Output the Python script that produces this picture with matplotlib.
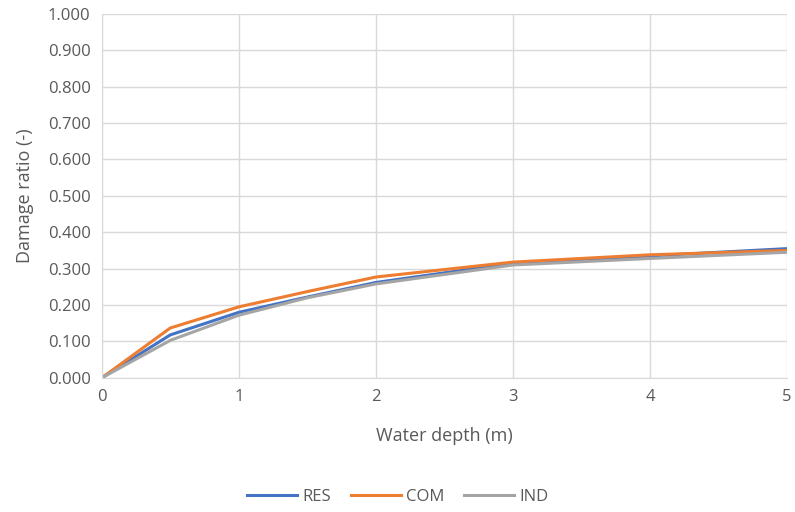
import matplotlib
matplotlib.use("Agg")
import matplotlib.pyplot as plt
from matplotlib.ticker import FormatStrFormatter, MultipleLocator

# depth-damage curves per land use class
depth = [0, 0.5, 1, 1.5, 2, 3, 4, 5]
res = [0.0, 0.118, 0.180, 0.222, 0.262, 0.315, 0.335, 0.355]
com = [0.0, 0.137, 0.195, 0.237, 0.277, 0.318, 0.338, 0.350]
ind = [0.0, 0.103, 0.172, 0.220, 0.258, 0.310, 0.328, 0.345]

plt.rcParams['font.family'] = ['Open Sans', 'DejaVu Sans']
text_col = "#595959"
grid_col = "#d9d9d9"

fig = plt.figure(figsize=(7.95, 5.12), dpi=100)
ax = fig.add_axes([0.128, 0.262, 0.862, 0.711])

ax.plot(depth, res, color="#4472c4", lw=2.2, label="RES")
ax.plot(depth, com, color="#ed7d31", lw=2.2, label="COM")
ax.plot(depth, ind, color="#a5a5a5", lw=2.2, label="IND")

ax.set_xlim(0, 5)
ax.set_ylim(0, 1.0)
ax.xaxis.set_major_locator(MultipleLocator(1))
ax.yaxis.set_major_locator(MultipleLocator(0.1))
ax.yaxis.set_major_formatter(FormatStrFormatter("%.3f"))
ax.grid(True, color=grid_col, lw=1)
ax.set_axisbelow(True)
for s in ["top", "right"]:
    ax.spines[s].set_visible(False)
for s in ["left", "bottom"]:
    ax.spines[s].set_color(grid_col)
ax.tick_params(length=0, labelsize=12, colors=text_col, pad=8)

ax.set_xlabel("Water depth (m)", fontsize=13, color=text_col, labelpad=16)
ax.set_ylabel("Damage ratio (-)", fontsize=13, color=text_col, labelpad=10)

fig.legend(loc="center", bbox_to_anchor=(0.5, 0.03), ncol=3, frameon=False,
           fontsize=12, labelcolor=text_col, handlelength=3, columnspacing=1.2,
           handletextpad=0.3)

fig.savefig("out.png", dpi=100)
